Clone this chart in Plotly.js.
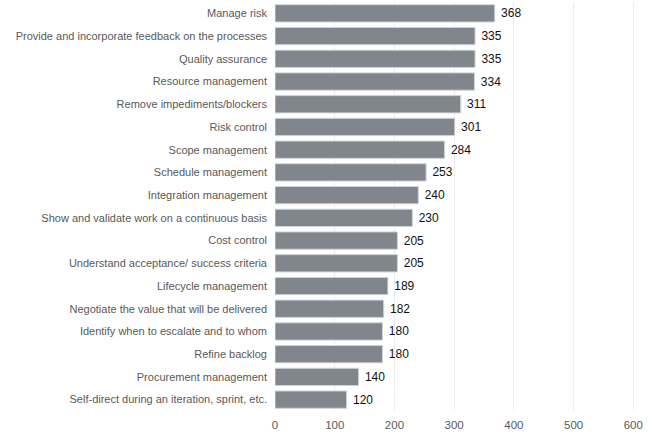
<!DOCTYPE html>
<html><head><meta charset="utf-8">
<script src="https://cdn.plot.ly/plotly-3.0.1.min.js"></script>
<style>html,body{margin:0;padding:0;background:#fff}#chart{width:653px;height:437px}</style>
</head><body><div id="chart"></div>
<script>
const categories = [
  "Manage risk",
  "Provide and incorporate feedback on the processes",
  "Quality assurance",
  "Resource management",
  "Remove impediments/blockers",
  "Risk control",
  "Scope management",
  "Schedule management",
  "Integration management",
  "Show and validate work on a continuous basis",
  "Cost control",
  "Understand acceptance/ success criteria",
  "Lifecycle management",
  "Negotiate the value that will be delivered",
  "Identify when to escalate and to whom",
  "Refine backlog",
  "Procurement management",
  "Self-direct during an iteration, sprint, etc."
];
const values = [368, 335, 335, 334, 311, 301, 284, 253, 240, 230, 205, 205, 189, 182, 180, 180, 140, 120];
const xTicks = [0, 100, 200, 300, 400, 500, 600];

const FONT = '"Liberation Sans", Arial, sans-serif';

Plotly.newPlot('chart', [{
  type: 'bar',
  orientation: 'h',
  y: categories,
  x: values,
  text: values.map(v => '\u00a0' + v),
  textposition: 'outside',
  cliponaxis: false,
  textfont: {family: FONT, size: 12, color: '#111'},
  marker: {color: '#80868b', line: {color: '#d0d3d6', width: 1}},
  width: 0.76,
  hoverinfo: 'none'
}], {
  width: 653, height: 437,
  margin: {l: 275, r: 0, t: 2, b: 26},
  paper_bgcolor: '#fff', plot_bgcolor: '#fff',
  showlegend: false,
  font: {family: FONT, size: 11, color: '#595959'},
  xaxis: {
    range: [0, 633],
    tickvals: xTicks,
    ticktext: xTicks.map(String),
    showgrid: true, gridcolor: '#ececec', gridwidth: 1,
    zeroline: false, showline: false,
    ticks: '', ticklabelstandoff: 5,
    tickfont: {family: FONT, size: 11.5, color: '#595959'}
  },
  yaxis: {
    autorange: 'reversed',
    showgrid: false, zeroline: false, showline: false,
    ticks: '', ticklabelstandoff: 7,
    tickfont: {family: FONT, size: 11, color: '#595959'}
  }
}, {displayModeBar: false, staticPlot: true});
</script>
</body></html>
